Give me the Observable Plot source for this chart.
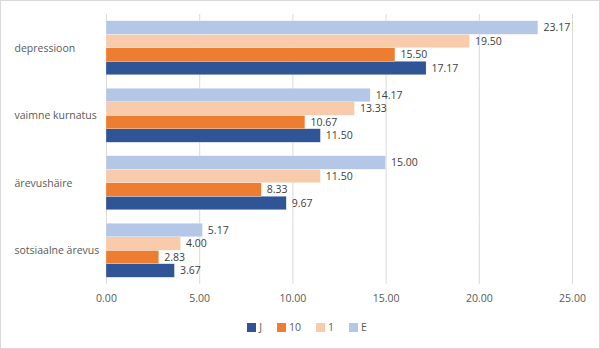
<!DOCTYPE html>
<html>
<head>
<meta charset="utf-8">
<script src="https://cdn.jsdelivr.net/npm/d3@7"></script>
<script src="https://cdn.jsdelivr.net/npm/@observablehq/plot@0.6"></script>
<style>
  body { margin: 0; background: #fff; }
  #wrap { position: relative; width: 600px; height: 349px; box-sizing: border-box; border: 1px solid #d9d9d9; background: #fff; font-family: "Open Sans", sans-serif; }
  #legend { position: absolute; left: 0; right: 0; top: 319px; display: flex; justify-content: center; gap: 15px; font-size: 10.5px; color: #595959; padding-left: 14px; }
  #legend .item { display: flex; align-items: center; gap: 3px; }
  #legend .sw { width: 9px; height: 9px; display: inline-block; }
</style>
</head>
<body>
<div id="wrap"><div id="chart"></div><div id="legend"></div></div>
<script>
const categories = ["depressioon", "vaimne kurnatus", "ärevushäire", "sotsiaalne ärevus"];
const seriesNames = ["J", "10", "1", "E"];
const seriesColors = ["#2F5597", "#ED7D31", "#F8CBAD", "#B4C7E7"];
const valuesJ = [17.17, 11.50, 9.67, 3.67];
const values10 = [15.50, 10.67, 8.33, 2.83];
const values1 = [19.50, 13.33, 11.50, 4.00];
const valuesE = [23.17, 14.17, 15.00, 5.17];
const xTicks = [0, 5, 10, 15, 20, 25];

const seriesValues = [valuesJ, values10, values1, valuesE];
const data = [];
categories.forEach((c, i) => {
  seriesNames.forEach((s, j) => {
    data.push({category: c, series: s, value: seriesValues[j][i]});
  });
});
const fmt = d3.format(".2f");
const textColor = "#595959";

const chart = Plot.plot({
  width: 598,
  height: 312,
  marginLeft: 105,
  marginRight: 27,
  marginTop: 13,
  marginBottom: 29,
  style: {fontFamily: "Open Sans, sans-serif", fontSize: "10.5px", color: textColor, background: "white"},
  x: {domain: [0, 25], ticks: xTicks, tickFormat: fmt, tickSize: 0, tickPadding: 10, label: null},
  y: {domain: ["E", "1", "10", "J"], paddingInner: 0, paddingOuter: 0.5, round: false, axis: null},
  fy: {domain: categories, padding: 0, round: false, axis: null},
  color: {domain: seriesNames, range: seriesColors},
  marks: [
    Plot.gridX(xTicks, {stroke: "#d9d9d9", strokeOpacity: 1, strokeWidth: 1}),
    Plot.barX(data, {x: "value", y: "series", fy: "category", fill: "series", stroke: "white", strokeWidth: 0.25}),
    Plot.text(data, {x: "value", y: "series", fy: "category", text: d => fmt(d.value), textAnchor: "start", dx: 5, fill: "#404040"}),
    Plot.text(categories, {fy: d => d, text: d => d, frameAnchor: "left", textAnchor: "start", dx: -92, fill: textColor})
  ]
});
document.getElementById("chart").appendChild(chart);

const legend = document.getElementById("legend");
seriesNames.forEach((s, i) => {
  const item = document.createElement("div");
  item.className = "item";
  const sw = document.createElement("span");
  sw.className = "sw";
  sw.style.background = seriesColors[i];
  const lab = document.createElement("span");
  lab.textContent = s;
  item.appendChild(sw);
  item.appendChild(lab);
  legend.appendChild(item);
});
</script>
</body>
</html>
